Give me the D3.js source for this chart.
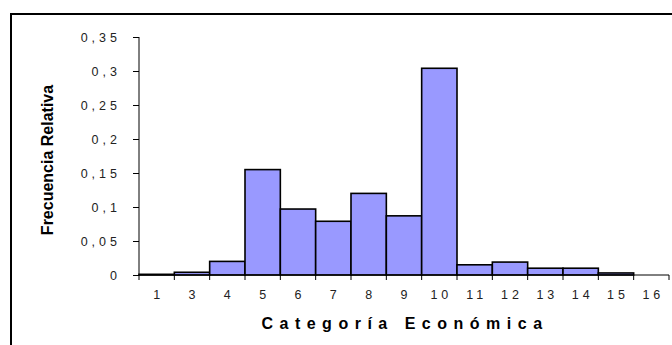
<!DOCTYPE html>
<html>
<head>
<meta charset="utf-8">
<script src="https://cdn.jsdelivr.net/npm/d3@7"></script>
<style>
  body { margin: 0; background: #fff; }
  svg { display: block; font-family: "Liberation Sans", Arial, sans-serif; }
</style>
</head>
<body>
<div id="chart"></div>
<script>
const categories = ['1', '3', '4', '5', '6', '7', '8', '9', '10', '11', '12', '13', '14', '15', '16'];
const frecuencias = [0.001, 0.004, 0.02, 0.155, 0.097, 0.079, 0.12, 0.087, 0.304, 0.015, 0.019, 0.01, 0.01, 0.003, 0];
const yTicks = [0, 0.05, 0.1, 0.15, 0.2, 0.25, 0.3, 0.35];

const width = 672;
const height = 345;
const margin = { top: 37, bottom: 70, left: 139, right: 3 };
const innerWidth = width - margin.left - margin.right;
const innerHeight = height - margin.top - margin.bottom;
const tickSpacing = 4;

const svg = d3.select('#chart').append('svg')
  .attr('width', width)
  .attr('height', height);

// outer frame (continues past right/bottom edge)
svg.append('rect')
  .attr('x', 11).attr('y', 14)
  .attr('width', 720).attr('height', 400)
  .attr('fill', 'none')
  .attr('stroke', '#000')
  .attr('stroke-width', 2);

const g = svg.append('g')
  .attr('transform', `translate(${margin.left},${margin.top})`);

const xScale = d3.scaleBand().domain(categories).range([0, innerWidth]).padding(0);
const yScale = d3.scaleLinear().domain([0, 0.35]).range([innerHeight, 0]);

// bars
g.selectAll('.bar')
  .data(categories.map((c, i) => ({ c, v: frecuencias[i] })))
  .join('rect').attr('class', 'bar')
  .attr('x', d => xScale(d.c))
  .attr('y', d => yScale(d.v))
  .attr('width', xScale.bandwidth())
  .attr('height', d => yScale(0) - yScale(d.v))
  .attr('fill', '#9999ff')
  .attr('stroke', '#000')
  .attr('stroke-width', 1.6);

// y axis
const yAxis = d3.axisLeft(yScale)
  .tickValues(yTicks)
  .tickSize(6)
  .tickPadding(12)
  .tickFormat(d => String(+d.toFixed(2)).replace('.', ','));
const yAxisG = g.append('g').call(yAxis);
yAxisG.selectAll('text')
  .attr('font-size', 12.5)
  .attr('letter-spacing', tickSpacing + 'px')
  .attr('fill', '#222');
yAxisG.selectAll('line, path').attr('stroke', '#000');
yAxisG.select('.domain').attr('d', `M0,${yScale(0.35)}V${innerHeight}`);

// x axis: ticks on band edges, labels centered
const xAxisG = g.append('g').attr('transform', `translate(0,${innerHeight})`);
xAxisG.append('line')
  .attr('x1', 0).attr('x2', innerWidth)
  .attr('stroke', '#000');
xAxisG.selectAll('.xtick')
  .data(categories.map(c => xScale(c)).concat([innerWidth]))
  .join('line').attr('class', 'xtick')
  .attr('x1', d => d).attr('x2', d => d)
  .attr('y1', 0).attr('y2', 5)
  .attr('stroke', '#000');
xAxisG.selectAll('.xlabel')
  .data(categories)
  .join('text').attr('class', 'xlabel')
  .attr('x', d => xScale(d) + xScale.bandwidth() / 2 + tickSpacing / 2)
  .attr('y', 24)
  .attr('text-anchor', 'middle')
  .attr('font-size', 12.5)
  .attr('letter-spacing', tickSpacing + 'px')
  .attr('fill', '#222')
  .text(d => d);

// axis titles
svg.append('text')
  .attr('x', 405).attr('y', 329)
  .attr('text-anchor', 'middle')
  .attr('font-size', 16)
  .attr('font-weight', 'bold')
  .attr('letter-spacing', '6.5px')
  .text('Categoría Económica');

svg.append('text')
  .attr('transform', 'translate(53,160) rotate(-90)')
  .attr('text-anchor', 'middle')
  .attr('font-size', 16)
  .attr('font-weight', 'bold')
  .text('Frecuencia Relativa');
</script>
</body>
</html>
